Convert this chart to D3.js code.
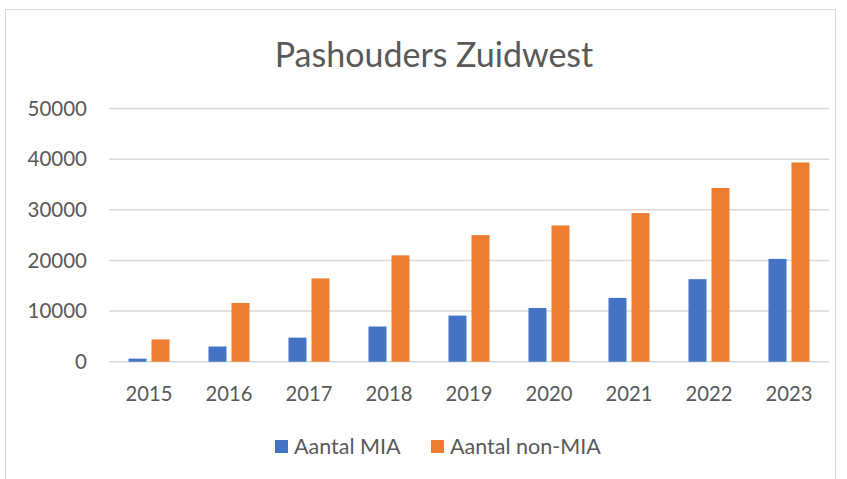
<!DOCTYPE html>
<html><head><meta charset="utf-8">
<script src="https://cdn.jsdelivr.net/npm/d3@7"></script>
<style>body{margin:0;background:#fff}svg{display:block}text{font-family:Lato,"Open Sans",sans-serif;fill:#595959}</style>
</head><body><svg id="c" width="847" height="479"></svg>
<script>
const years = ["2015","2016","2017","2018","2019","2020","2021","2022","2023"];
const mia = [600,3000,4750,6950,9100,10600,12600,16300,20300];
const nonMia = [4400,11600,16450,21000,25000,26900,29350,34300,39350];
const seriesNames = ["Aantal MIA","Aantal non-MIA"];
const colors = ["#4472C4","#ED7D31"];
const yTicks = [0,10000,20000,30000,40000,50000];

const svg = d3.select("#c");
svg.append("rect").attr("x",5.5).attr("y",9.5).attr("width",830).attr("height",480)
  .attr("fill","#fff").attr("stroke","#d9d9d9");

const x = d3.scaleBand().domain(years).range([109,829]);
const y = d3.scaleLinear().domain([0,50000]).range([361.7,108.5]);

svg.append("g").selectAll("line").data(yTicks).join("line")
  .attr("x1",109).attr("x2",829).attr("y1",d=>y(d)).attr("y2",d=>y(d))
  .attr("stroke","#d9d9d9").attr("stroke-width",1.5);

svg.append("g").selectAll("text").data(yTicks).join("text")
  .attr("x",87).attr("y",d=>y(d)).attr("dy","0.35em").attr("text-anchor","end")
  .attr("font-size",20.5).text(d=>d);

svg.append("g").selectAll("text").data(years).join("text")
  .attr("x",d=>x(d)+x.bandwidth()/2).attr("y",394).attr("dy","0.35em").attr("text-anchor","middle")
  .attr("font-size",20.2).text(d=>d);

const data = [mia, nonMia];
const bw = 18, gap = 5;
data.forEach((vals,si)=>{
  svg.append("g").selectAll("rect").data(vals).join("rect")
    .attr("x",(d,i)=>x(years[i])+x.bandwidth()/2 + (si===0 ? -gap/2-bw : gap/2))
    .attr("y",d=>y(d)).attr("width",bw).attr("height",d=>y(0)-y(d))
    .attr("fill",colors[si]);
});

svg.append("text").attr("x",434).attr("y",55).attr("dy","0.35em").attr("text-anchor","middle")
  .attr("font-size",34).text("Pashouders Zuidwest");

const leg = [{x:275,tx:294},{x:431,tx:450}];
seriesNames.forEach((n,i)=>{
  svg.append("rect").attr("x",leg[i].x).attr("y",440).attr("width",13).attr("height",13).attr("fill",colors[i]);
  svg.append("text").attr("x",leg[i].tx).attr("y",446).attr("dy","0.35em").attr("font-size",21.5).text(n);
});
</script></body></html>
